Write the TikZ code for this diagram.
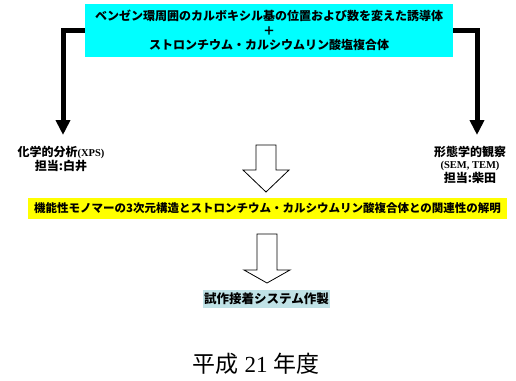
\documentclass[tikz,border=0pt]{standalone}
\usepackage{fontspec}
\setmainfont{Liberation Serif}
\newfontfamily\cjk{Noto Sans CJK JP}
\usetikzlibrary{arrows.meta}
\definecolor{topcyan}{RGB}{0,255,255}
\definecolor{ylw}{RGB}{255,255,0}
\definecolor{pale}{RGB}{192,226,230}
\begin{document}
\begin{tikzpicture}[x=1pt,y=-1pt,
  box/.style={draw=none, inner sep=0pt, align=center},
  bigarrow/.style={line width=5pt, -{Triangle[width=14pt,length=15pt]}},
  hollow/.style={draw=black, line width=0.8pt, fill=white},
  lab/.style={align=center, inner sep=0pt, font=\cjk\bfseries\fontsize{12}{12}\selectfont}]
\useasboundingbox (0,0) rectangle (516,380);
\node[box, fill=topcyan, minimum width=368pt, minimum height=53pt,
      font=\cjk\bfseries\fontsize{12}{14.5}\selectfont] (top) at (269,30.5)
  {ベンゼン環周囲のカルボキシル基の位置および数を変えた誘導体\\＋\\ストロンチウム・カルシウムリン酸塩複合体};
\coordinate (lend) at (63,135);
\coordinate (rend) at (477,135);
\draw[bigarrow] (top.west) -| (lend);
\draw[bigarrow] (top.east) -| (rend);
\node[lab] (xps) at (61,159)
  {化学的分析{\rmfamily\bfseries\fontsize{10.5}{12}\selectfont(XPS)}\\担当:白井};
\node[lab] (sem) at (470,165)
  {形態学的観察\\{\rmfamily\bfseries\fontsize{10.5}{12}\selectfont(SEM, TEM)}\\担当:柴田};
\draw[hollow] (256,145) -- (276,145) -- (276,170) -- (289,170) -- (266,192) -- (243,170) -- (256,170) -- cycle;
\node[box, fill=ylw, minimum width=479pt, minimum height=21pt,
      font=\cjk\bfseries\fontsize{11.5}{12}\selectfont] (goal) at (267.5,208.5)
  {機能性モノマーの3次元構造とストロンチウム・カルシウムリン酸複合体との関連性の解明};
\draw[hollow] (257,234) -- (277,234) -- (277,270) -- (290,270) -- (267,283) -- (244,270) -- (257,270) -- cycle;
\node[box, fill=pale, minimum width=127pt, minimum height=18pt,
      font=\cjk\bfseries\fontsize{12.5}{13}\selectfont] (sys) at (266.5,299)
  {試作接着システム作製};
\node[inner sep=0pt, font=\fontsize{23}{23}\selectfont] (year) at (256,364)
  {{\cjk 平成} 21 {\cjk 年度}};
\end{tikzpicture}
\end{document}
